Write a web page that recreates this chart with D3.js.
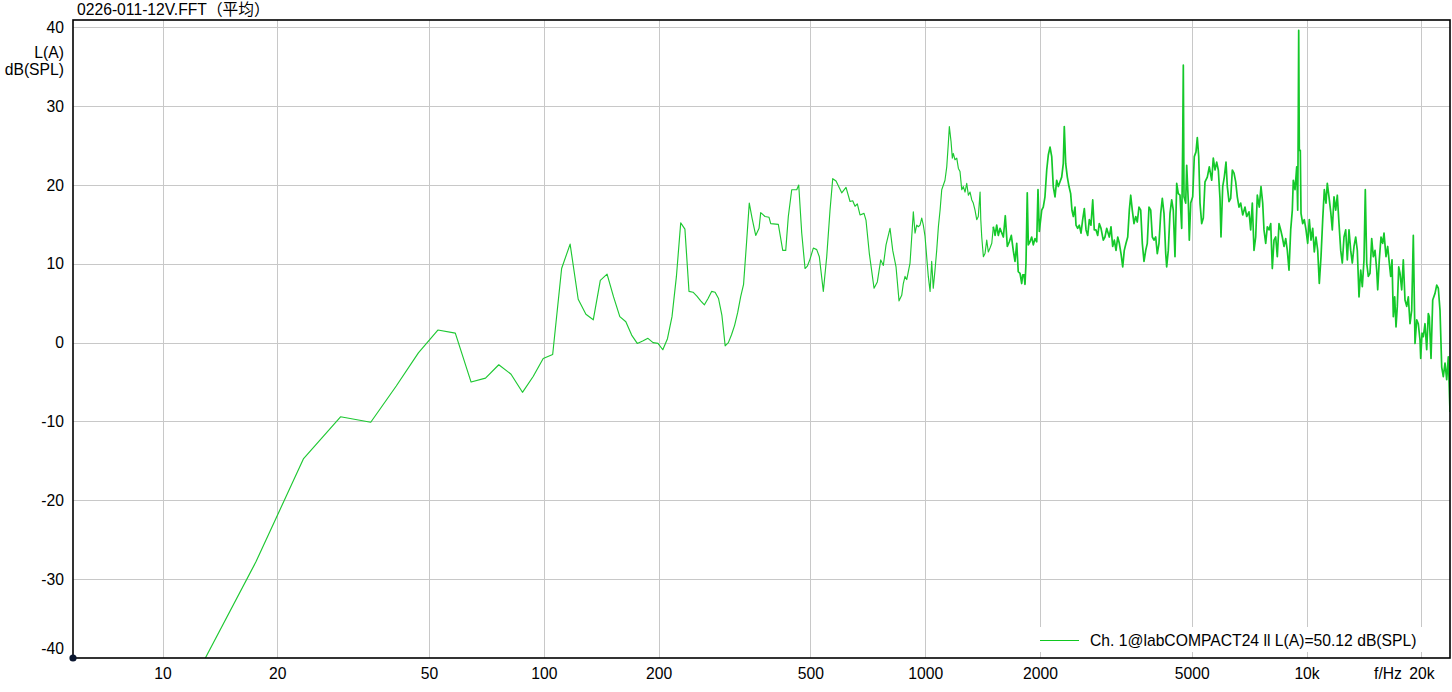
<!DOCTYPE html>
<html><head><meta charset="utf-8">
<script src="https://cdn.jsdelivr.net/npm/d3@7"></script>
<style>
html,body{margin:0;padding:0;background:#fff;}
svg{display:block;}
text{font-family:"Liberation Sans",Arial,"Noto Sans CJK SC",sans-serif;fill:#000;}
</style></head><body>
<svg id="chart" width="1452" height="692"></svg>
<script>
// ---- data (frequency in Hz, level in dB(SPL)) ----
const freqHz = [
11.72,17.58,23.44,29.30,35.16,41.02,46.88,52.73,58.59,64.45,70.31,76.17,82.03,87.89,93.75,99.61,
105.47,111.33,117.19,123.05,128.91,134.77,140.63,146.48,152.34,158.20,164.06,169.92,175.78,181.64,
187.50,193.36,199.22,205.08,210.94,216.80,222.66,228.52,234.38,240.23,246.09,251.95,257.81,263.67,
269.53,275.39,281.25,287.11,292.97,298.83,304.69,310.55,316.41,322.27,328.13,333.98,339.84,345.70,351.56,
359.4,366.7,370.4,380.2,389.5,393.5,412.0,423.1,430.8,437.6,446.7,460.4,466.0,474.5,484.1,490.8,498.9,
508.9,519.5,527.7,540.6,551.8,562.9,572.2,583.7,604.1,620.0,635.2,645.6,654.6,663.8,674.7,691.2,699.6,
713.7,734.3,749.0,764.6,776.7,789.4,808.7,822.0,838.6,853.9,867.9,876.3,885.4,894.5,903.2,912.5,921.9,
930.9,940.5,950.2,959.4,969.3,979.3,988.8,999.0,1009,1019,1030,1040,1050,1061,1072,1083,1094,1105,1116,
1127,1139,1150,1157,1169,1178,1185,1197,1210,1222,1234,1247,1259,1272,1285,1298,1311,1325,1337,1351,1365,
1378,1393,1399,1407,1421,1435,1450,1464,1479,1495,1509,1525,1540,1555,
1571,1603,1622,1642,1662,1682,1702,1720,1738,1754,1773,1791,1802,1816,1827,1838,1852,1864,1883,1902,1921,
1941,1961,1976,1992,2021,2040,2061,2083,2103,2125,2147,2167,2190,2212,2234,2257,2280,2302,2316,2336,2359,
2383,2407,2426,2446,2471,2486,2511,2536,2562,2588,2614,2641,2668,2694,2721,2750,2776,2805,2834,2861,2891,
2931,2961,2992,3039,3071,3102,3133,3165,3198,3229,3262,3296,3327,3362,3397,3430,3459,3492,3528,3565,3599,
3636,3674,3710,3748,3787,3823,3863,3903,3941,3981,4022,4061,4103,4146,4186,4229,4273,4298,4340,4385,4430,
4473,4519,4566,4610,4658,
4706,4735,4752,4772,4821,4850,4897,4927,4969,5029,5078,5130,5171,5215,5256,5310,5362,5417,5493,5559,5641,
5695,5754,5813,5870,5930,5966,6028,6086,6149,6198,6262,6326,6388,6454,6520,6583,6651,6720,6802,6897,6968,
7065,7138,7208,7282,7357,7429,7519,7596,7675,7735,7815,7891,7972,8055,8133,8217,8301,8382,8469,8556,8639,
8728,8818,8904,8996,9088,9177,9232,9328,9424,9481,9515,9538,9573,9631,9672,9771,9866,9968,10071,10169,
10274,10380,10480,10588,10698,10802,10913,11026,11133,11247,11336,11453,11572,11684,11804,11926,12042,
12166,12292,12411,12539,12668,12791,12923,13056,13184,13320,13457,13588,13728,13870,14004,14148,14260,
14381,14520,14670,14822,14966,15120,15277,15369,15518,15678,15840,15965,16159,16325,16484,16624,16755,
16887,17030,17164,17299,17447,17584,17766,17938,18123,18310,18488,18679,18871,19055,19252,19450,19638,
19841,19926,20083,20241,20449,20660,20861,20987,21204,21423,21723,21947,22160,22387,22619,22838,23075,
23312,23538,23781
];
const levelDb = [
-44,-27.8,-14.7,-9.4,-10.1,-5.5,-1.3,1.6,1.2,-5.0,-4.5,-2.8,-4.0,-6.3,-4.3,-2.0,
-1.5,9.4,12.5,5.5,3.6,2.9,7.9,8.7,5.8,3.3,2.65,0.96,-0.1,0.2,
0.55,0.0,-0.1,-0.9,0.5,3.3,8.4,15.2,14.4,6.5,6.4,5.9,5.3,4.8,
5.6,6.5,6.4,5.6,3.5,-0.4,0.0,1.0,2.2,3.8,5.8,7.4,12.5,17.7,15.8,
13.6,14.5,16.5,16.0,15.9,15.1,15.0,11.7,11.7,16.0,19.4,19.4,20.0,13.9,9.4,9.7,10.6,
12.0,11.8,10.9,6.5,10.9,16.8,20.8,20.5,19.0,19.7,17.9,18.0,17.3,17.6,16.2,16.4,15.5,
11.3,6.9,7.7,10.5,9.8,12.4,14.5,11.7,9.6,5.3,6.0,7.5,8.4,8.0,9.0,10.1,13.4,
16.6,13.9,14.9,14.7,14.9,15.8,14.9,13.5,10.9,8.4,6.5,10.3,6.9,9.2,11.7,14.7,16.8,19.4,20.0,
20.6,22.3,25.3,27.4,25.5,23.4,24.0,23.2,23.4,22.1,21.7,19.4,19.8,19.1,20.2,18.7,19.1,18.1,17.7,16.8,15.6,
16.0,19.1,15.6,13.4,10.9,11.3,13.0,11.5,12.0,12.6,14.7,13.6,14.9,13.6,
14.5,13.4,16.1,12.2,12.8,13.6,11.7,10.3,12.6,9.0,8.8,7.5,8.6,8.6,7.4,10.1,19.0,12.4,12.8,13.4,12.4,
13.2,12.8,19.4,14.1,16.8,17.2,18.5,21.9,23.8,24.8,23.6,19.8,18.5,20.6,19.8,20.4,21.0,22.7,27.4,22.7,21.0,
19.8,18.9,16.8,16.0,17.2,14.9,14.5,14.9,13.9,15.6,17.0,14.3,13.6,15.6,14.9,18.1,14.3,14.3,13.6,15.1,14.5,
13.0,13.4,14.5,13.4,14.7,12.2,13.0,11.7,13.4,12.6,11.3,9.6,11.7,12.6,13.4,16.8,18.7,16.8,15.1,16.0,15.3,
17.2,16.8,12.6,10.3,11.7,12.6,17.2,16.8,13.4,13.0,13.4,11.3,12.6,16.4,18.3,16.4,11.3,9.6,11.7,16.4,18.1,
16.8,10.9,20.2,18.9,18.7,
14.5,25.7,35.2,18.5,17.7,22.5,17.9,13.0,17.7,18.5,23.6,24.2,26.0,23.6,17.7,15.1,15.8,20.4,21.0,22.3,20.6,
23.4,21.9,22.9,21.9,18.3,13.4,19.8,21.0,22.9,19.8,17.9,18.3,21.9,21.5,20.4,18.5,17.2,17.7,16.2,17.2,16.0,
16.6,14.3,17.7,11.7,13.4,18.7,17.2,19.8,17.7,14.3,12.6,14.7,14.3,15.1,9.4,13.0,13.4,10.9,15.1,14.3,13.4,
12.2,13.2,11.7,9.2,14.3,16.8,20.6,19.4,22.3,16.8,29.1,39.6,24.4,24.4,16.4,15.1,15.6,14.3,12.6,15.6,
13.0,14.5,11.5,13.4,11.7,7.5,10.9,15.6,19.4,17.7,20.2,18.5,16.6,14.3,18.5,16.8,18.7,
15.1,11.7,10.1,13.4,14.3,10.5,14.3,11.7,10.1,12.2,13.4,11.7,5.8,9.2,7.1,10.5,19.4,
10.1,8.4,8.8,13.2,10.9,11.7,9.2,6.7,10.5,13.4,12.6,13.9,10.9,12.2,10.1,8.4,10.5,
3.3,5.8,2.0,4.6,9.6,8.8,6.7,10.5,5.4,4.6,5.8,2.4,4.1,13.6,-0.1,2.9,2.4,
0.3,-2.0,1.2,0.75,2.4,-0.9,3.7,3.3,-2.0,5.4,6.25,7.3,6.9,4.1,-3.1,-4.3,-2.6,
-4.7,-1.8,-8.8
];
const xTickValues = [10,20,50,100,200,500,1000,2000,5000,10000,20000];
const xTickLabels = ["10","20","50","100","200","500","1000","2000","5000","10k","20k"];
const yTickValues = [-40,-30,-20,-10,0,10,20,30,40];
const titleText = "0226-011-12V.FFT（平均）";
const yUnitLines = ["L(A)","dB(SPL)"];
const xUnitText = "f/Hz";
const legendText = "Ch. 1@labCOMPACT24 ll L(A)=50.12 dB(SPL)";
const xDomain = [5.825, 23780];
const yDomain = [-40, 40];
const denseFromHz = 1500;

// ---- layout ----
const L = 73, R = 1450, T = 20, B = 658, Y40 = 27.3;
const lineColor = "#1ec832", denseColor = "#14c82a", gridColor = "#c8c8c8";
const fontSize = 15.7;

const svg = d3.select("#chart");
const x = d3.scaleLog().domain(xDomain).range([L, R]);
const y = d3.scaleLinear().domain(yDomain).range([B, Y40]);

// grid
svg.append("g").selectAll("line").data(xTickValues).join("line")
  .attr("x1", d => Math.round(x(d)) + 0.5).attr("x2", d => Math.round(x(d)) + 0.5)
  .attr("y1", T).attr("y2", B).attr("stroke", gridColor).attr("stroke-width", 1);
svg.append("g").selectAll("line").data(yTickValues.filter(v => v > yDomain[0])).join("line")
  .attr("x1", L).attr("x2", R)
  .attr("y1", d => Math.round(y(d)) + 0.5).attr("y2", d => Math.round(y(d)) + 0.5)
  .attr("stroke", gridColor).attr("stroke-width", 1);

// data line
svg.append("clipPath").attr("id", "plotClip").append("rect")
  .attr("x", L).attr("y", T).attr("width", R - L).attr("height", B - T);
const pts = freqHz.map((f, i) => ({f, v: levelDb[i]}));
const splitIdx = pts.findIndex(p => p.f >= denseFromHz);
const line = d3.line().x(d => x(d.f)).y(d => y(d.v));
svg.append("path").datum(pts.slice(0, splitIdx + 1))
  .attr("clip-path", "url(#plotClip)")
  .attr("fill", "none").attr("stroke", lineColor).attr("stroke-width", 1.15)
  .attr("stroke-linejoin", "round").attr("d", line);
svg.append("path").datum(pts.slice(splitIdx))
  .attr("clip-path", "url(#plotClip)")
  .attr("fill", "none").attr("stroke", denseColor).attr("stroke-width", 1.7)
  .attr("stroke-linejoin", "round").attr("d", line);

// legend
const lg = svg.append("g");
lg.append("rect").attr("x", 1030).attr("y", 627).attr("width", 410).attr("height", 25).attr("fill", "#fff");
lg.append("line").attr("x1", 1040).attr("x2", 1079).attr("y1", 640.5).attr("y2", 640.5)
  .attr("stroke", "#10c820").attr("stroke-width", 1.2);
lg.append("text").attr("x", 1090).attr("y", 645.5).attr("font-size", fontSize).text(legendText);

// frame
svg.append("rect").attr("x", L).attr("y", T).attr("width", R - L).attr("height", B - T)
  .attr("fill", "none").attr("stroke", "#000").attr("stroke-width", 1.6);

// axes
const xAxis = svg.append("g").attr("transform", `translate(0,${B})`)
  .call(d3.axisBottom(x).tickValues(xTickValues).tickFormat((d, i) => xTickLabels[i]).tickSize(0).tickPadding(10));
const yAxis = svg.append("g").attr("transform", `translate(${L},0)`)
  .call(d3.axisLeft(y).tickValues(yTickValues).tickFormat(d => String(d)).tickSize(0).tickPadding(9));
[xAxis, yAxis].forEach(a => {
  a.select(".domain").remove();
  a.selectAll("text").attr("font-size", fontSize).attr("font-family", null).attr("fill", "#000");
});
yAxis.selectAll(".tick").filter(d => d === yDomain[0]).select("text").attr("dy", "-0.3em");

svg.append("text").attr("x", 1388).attr("y", 679).attr("text-anchor", "middle")
  .attr("font-size", fontSize).text(xUnitText);

// y unit
svg.append("g").selectAll("text").data(yUnitLines).join("text")
  .attr("x", 64).attr("y", (d, i) => 58 + i * 16.5).attr("text-anchor", "end")
  .attr("font-size", fontSize).text(d => d);

// title
svg.append("text").attr("x", 77).attr("y", 15).attr("font-size", fontSize).text(titleText);

// origin marker
svg.append("circle").attr("cx", L).attr("cy", B).attr("r", 3.6).attr("fill", "#0b1730");
</script>
</body></html>
